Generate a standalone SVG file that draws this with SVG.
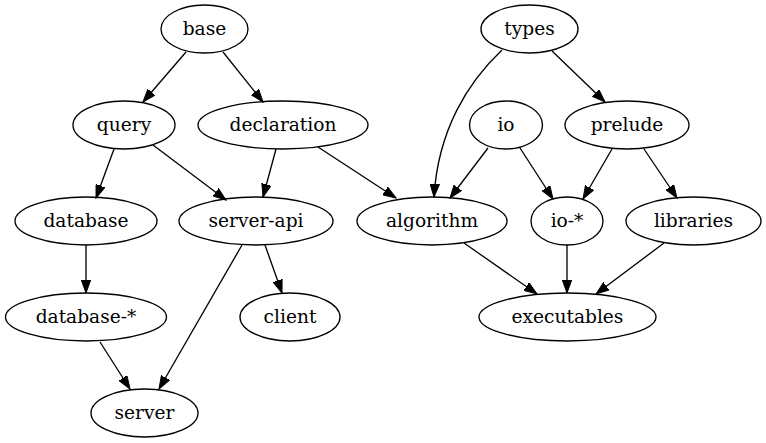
<svg xmlns="http://www.w3.org/2000/svg" width="766" height="443" viewBox="0 0 766 443">
<style>
.node ellipse{fill:none;stroke:#000;stroke-width:1.33}
.node text{font-family:"DejaVu Serif",serif;font-size:18.6px;fill:#000;text-anchor:middle}
.edges path{fill:none;stroke:#000;stroke-width:1.33;marker-end:url(#arr)}
</style>
<defs>
<marker id="arr" markerUnits="userSpaceOnUse" markerWidth="14" markerHeight="10" refX="13" refY="4.7" orient="auto" viewBox="0 0 14 9.4">
<path d="M0,0 L13,4.7 L0,9.4 z" fill="#000" stroke="#000" stroke-width="1"/>
</marker>
</defs>
<rect width="766" height="443" fill="#fff"/>
<g class="edges">
<path d="M186,52 L143,102"/>
<path d="M223,52 L263,102"/>
<path d="M114,149 L96,198"/>
<path d="M153,145 L226,200"/>
<path d="M276,149 L263,197"/>
<path d="M318,147 L396,198"/>
<path d="M502,50 C468,82 438,130 434,197"/>
<path d="M552,51 L605,102"/>
<path d="M488,148 L450,198"/>
<path d="M520,148 L553,199"/>
<path d="M612,149 L583,199"/>
<path d="M644,149 L677,198"/>
<path d="M86,245 L86,293"/>
<path d="M242,245 L159,389"/>
<path d="M265,245 L282,293"/>
<path d="M100,342 L130,389"/>
<path d="M464,243 L537,294"/>
<path d="M567,245 L567,293"/>
<path d="M664,243 L596,294"/>
</g>
<g id="base" class="node"><ellipse cx="204.5" cy="29" rx="43.5" ry="24"/><text x="204.5" y="34.5">base</text></g>
<g id="types" class="node"><ellipse cx="529.5" cy="29" rx="48.5" ry="24"/><text x="529.5" y="34.5">types</text></g>
<g id="query" class="node"><ellipse cx="124" cy="125" rx="51" ry="24"/><text x="124" y="130.5">query</text></g>
<g id="declaration" class="node"><ellipse cx="283" cy="125" rx="85" ry="24"/><text x="283" y="130.5">declaration</text></g>
<g id="io" class="node"><ellipse cx="506" cy="125" rx="36.5" ry="24"/><text x="506" y="130.5">io</text></g>
<g id="prelude" class="node"><ellipse cx="627" cy="125" rx="62" ry="24"/><text x="627" y="130.5">prelude</text></g>
<g id="database" class="node"><ellipse cx="86" cy="221" rx="71" ry="24"/><text x="86" y="226.5">database</text></g>
<g id="server-api" class="node"><ellipse cx="256" cy="221" rx="77" ry="24"/><text x="256" y="226.5">server-api</text></g>
<g id="algorithm" class="node"><ellipse cx="432" cy="221" rx="75" ry="24"/><text x="432" y="226.5">algorithm</text></g>
<g id="io-star" class="node"><ellipse cx="567" cy="221" rx="36" ry="24"/><text x="567" y="226.5">io-*</text></g>
<g id="libraries" class="node"><ellipse cx="693.5" cy="221" rx="67.5" ry="24"/><text x="693.5" y="226.5">libraries</text></g>
<g id="database-star" class="node"><ellipse cx="86" cy="317" rx="80.5" ry="24"/><text x="86" y="322.5">database-*</text></g>
<g id="client" class="node"><ellipse cx="290" cy="317" rx="50" ry="24"/><text x="290" y="322.5">client</text></g>
<g id="executables" class="node"><ellipse cx="567.5" cy="317" rx="88.5" ry="24"/><text x="567.5" y="322.5">executables</text></g>
<g id="server" class="node"><ellipse cx="144.5" cy="413" rx="53.5" ry="24"/><text x="144.5" y="418.5">server</text></g>
</svg>
